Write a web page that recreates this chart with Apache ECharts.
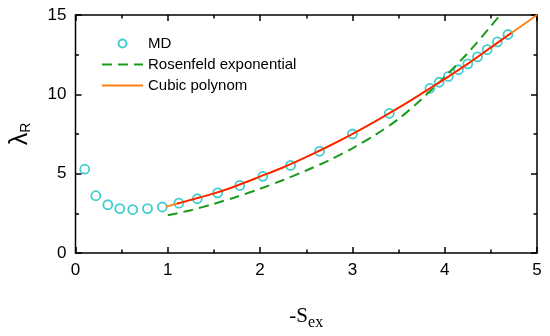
<!DOCTYPE html>
<html>
<head>
<meta charset="utf-8">
<script src="https://cdn.jsdelivr.net/npm/echarts@6/dist/echarts.min.js"></script>
<style>html,body{margin:0;padding:0;background:#fff}#c{width:550px;height:336px}#e{position:absolute;left:0;top:0;font:10px sans-serif;color:#c00;width:550px}</style>
</head>
<body>
<div id="c"></div><div id="e"></div>
<script>
window.onerror=function(m,s,l,c,err){document.getElementById('e').textContent+=' ERR:'+m+' '+(err&&err.stack||'').slice(0,300);};
// MD simulation data
const mdX = [0.10,0.22,0.35,0.48,0.62,0.78,0.94,1.12,1.32,1.54,1.78,2.03,2.33,2.645,3.0,3.4,3.84,3.94,4.04,4.15,4.25,4.355,4.46,4.57,4.685];
const mdY = [5.28,3.61,3.04,2.80,2.74,2.80,2.90,3.14,3.42,3.79,4.26,4.83,5.52,6.41,7.5,8.8,10.38,10.76,11.13,11.55,11.92,12.36,12.82,13.3,13.77];
// Rosenfeld exponential (dashed)
const rosX = [1.0,1.25,1.5,1.75,2.0,2.25,2.5,2.75,3.0,3.25,3.5,3.75,4.0,4.25,4.5,4.6];
const rosY = [2.38,2.7,3.1,3.55,4.05,4.6,5.2,5.85,6.6,7.45,8.45,9.7,11.1,12.6,14.3,15.0];
// Cubic polynom (orange, full range)
const cubX = [0.98,1.25,1.5,1.75,2.0,2.25,2.5,2.75,3.0,3.25,3.5,3.75,4.0,4.25,4.5,4.75,5.0];
const cubY = [2.92,3.35,3.75,4.25,4.82,5.4,6.05,6.75,7.5,8.3,9.15,10.05,10.97,11.93,12.95,13.98,15.0];
// Cubic polynom over the fitted (data) range, drawn in red
const fitX = [1.1,1.25,1.5,1.75,2.0,2.25,2.5,2.75,3.0,3.25,3.5,3.75,4.0,4.25,4.5,4.72];
const fitY = [3.11,3.35,3.75,4.25,4.82,5.4,6.05,6.75,7.5,8.3,9.15,10.05,10.97,11.93,12.95,13.86];
// axis ticks
const xMin = 0, xMax = 5, xStep = 1, xMinorStep = 0.5;
const yMin = 0, yMax = 15, yStep = 5, yMinorStep = 2.5;

const zip = (a,b) => a.map((v,i)=>[v,b[i]]);
const CYAN='#10C0C4', GREEN='#1A9A1A', ORANGE='#FF7F10', RED='#FF2200';
const sans='Liberation Sans, Arial, sans-serif';
const serif='Liberation Serif, Times New Roman, serif';
const LW = 1.5;

function axis(extra, tickLen){
  return Object.assign({
    type:'value',
    axisLine:{show:false,onZero:false},
    axisTick:{show:true,inside:true,length:tickLen,lineStyle:{color:'#000',width:LW}},
    axisLabel:{show:false},
    splitLine:{show:false}
  },extra);
}
try{
const chart = echarts.init(document.getElementById('c'));
chart.setOption({
  animation:false,
  backgroundColor:'#fff',
  grid:{left:73,right:13,top:15,bottom:69,show:true,borderColor:'#000',borderWidth:LW,backgroundColor:'transparent'},
  legend:{
    orient:'vertical',left:101,top:36,padding:0,itemWidth:41,itemHeight:8,itemGap:6,
    textStyle:{fontFamily:sans,fontSize:15,color:'#000'},
    data:['MD',{name:'Rosenfeld exponential',itemStyle:{opacity:0}},{name:'Cubic polynom',itemStyle:{opacity:0}}]
  },
  xAxis:[
    axis({min:xMin,max:xMax,interval:xStep,position:'bottom',
      axisLabel:{show:true,fontFamily:sans,fontSize:17,color:'#000',margin:9},
      name:'{a|-S}{b|ex}',nameLocation:'middle',nameGap:48,
      nameTextStyle:{rich:{a:{fontFamily:serif,fontSize:21,color:'#000'},b:{fontFamily:serif,fontSize:16,color:'#000',padding:[14,0,0,0]}}}},6),
    axis({min:xMin,max:xMax,interval:xStep,position:'top'},6),
    axis({min:xMin,max:xMax,interval:xMinorStep,position:'bottom'},3.5),
    axis({min:xMin,max:xMax,interval:xMinorStep,position:'top'},3.5)
  ],
  yAxis:[
    axis({min:yMin,max:yMax,interval:yStep,position:'left',
      axisLabel:{show:true,fontFamily:sans,fontSize:17,color:'#000',margin:9},
      name:'{a|λ}{b|R}',nameLocation:'middle',nameGap:42,nameRotate:90,
      nameTextStyle:{rich:{a:{fontFamily:sans,fontSize:25,color:'#000'},b:{fontFamily:sans,fontSize:14,color:'#000',padding:[12,0,0,0]}}}},6),
    axis({min:yMin,max:yMax,interval:yStep,position:'right'},6),
    axis({min:yMin,max:yMax,interval:yMinorStep,position:'left'},3.5),
    axis({min:yMin,max:yMax,interval:yMinorStep,position:'right'},3.5)
  ],
  series:[
    {name:'MD',type:'scatter',data:zip(mdX,mdY),symbol:'circle',symbolSize:9,
      itemStyle:{color:'rgba(255,255,255,0)',borderColor:CYAN,borderWidth:1.8},z:2},
    {name:'Rosenfeld exponential',type:'line',data:zip(rosX,rosY),smooth:0.3,showSymbol:false,symbol:'none',
      lineStyle:{color:GREEN,width:2,type:[10,6]},itemStyle:{color:GREEN},z:3},
    {name:'Cubic polynom',type:'line',data:zip(cubX,cubY),smooth:0.3,showSymbol:false,symbol:'none',
      lineStyle:{color:ORANGE,width:1.8},itemStyle:{color:ORANGE},z:4},
    {name:'fit',type:'line',data:zip(fitX,fitY),smooth:0.3,showSymbol:false,symbol:'none',
      lineStyle:{color:RED,width:1.8},itemStyle:{color:RED},z:5}
  ]
});
}catch(err){document.getElementById('e').textContent+=' CATCH:'+err.message+' '+(err.stack||'').slice(0,400);}
</script>
</body>
</html>
